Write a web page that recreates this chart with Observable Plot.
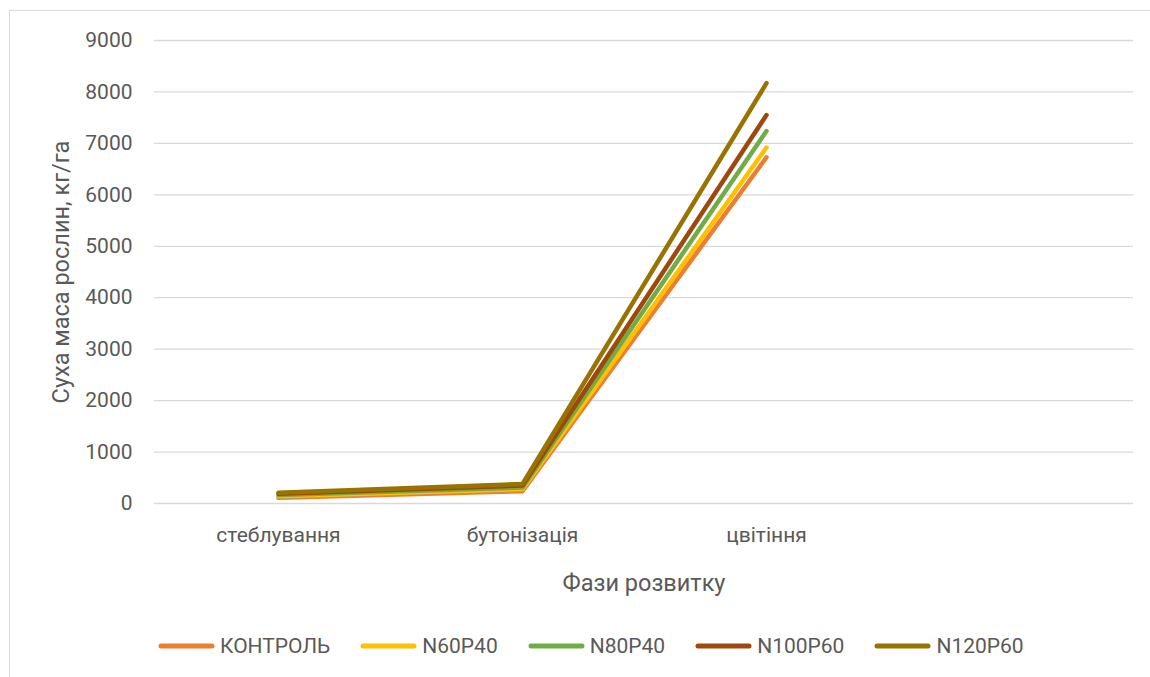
<!DOCTYPE html>
<html>
<head>
<meta charset="utf-8">
<script src="https://cdn.jsdelivr.net/npm/d3@7"></script>
<script src="https://cdn.jsdelivr.net/npm/@observablehq/plot@0.6"></script>
<style>
  html, body { margin: 0; padding: 0; background: #fff; }
  body { width: 1150px; height: 677px; overflow: hidden; position: relative; font-family: Roboto, "Noto Sans", sans-serif; }
  #frame { position: absolute; left: 9px; top: 10px; width: 1200px; height: 720px; border: 1px solid #d9d9d9; box-sizing: border-box; }
  #chart { position: absolute; left: 0; top: 0; }
  #legend { position: absolute; left: 158px; top: 634px; display: flex; gap: 30px; align-items: center; color: #595959; font-size: 21px; }
  #legend .item { display: flex; align-items: center; gap: 5px; }
</style>
</head>
<body>
<div id="frame"></div>
<div id="chart"></div>
<div id="legend"></div>
<script>
// Development phases (the fourth slot is an empty category on the axis)
const phases = ["стеблування", "бутонізація", "цвітіння", ""];
const series = ["КОНТРОЛЬ", "N60P40", "N80P40", "N100P60", "N120P60"];
const colors = ["#ED7D31", "#FFC000", "#70AD47", "#9E480E", "#997300"];

// Dry plant mass, kg/ha, per phase
const control = [110, 240, 6730];
const n60p40 = [140, 280, 6920];
const n80p40 = [165, 310, 7240];
const n100p60 = [190, 350, 7550];
const n120p60 = [210, 380, 8170];

const yTicks = [0, 1000, 2000, 3000, 4000, 5000, 6000, 7000, 8000, 9000];

const valuesBySeries = [control, n60p40, n80p40, n100p60, n120p60];
const rows = series.flatMap((s, i) =>
  valuesBySeries[i].map((v, j) => ({series: s, phase: phases[j], value: v}))
);

const chart = Plot.plot({
  width: 1150,
  height: 600,
  marginLeft: 154,
  marginRight: 17,
  marginTop: 40,
  marginBottom: 97,
  style: {fontFamily: "Roboto, 'Noto Sans', sans-serif", fontSize: "21px", color: "#595959", background: "transparent"},
  x: {type: "point", domain: phases, padding: 0.5},
  y: {domain: [0, 9000]},
  color: {domain: series, range: colors},
  marks: [
    Plot.gridY(yTicks, {stroke: "#d9d9d9", strokeOpacity: 1, strokeWidth: 1.3}),
    Plot.axisY(yTicks, {tickSize: 0, tickPadding: 22, fill: "#595959", fontSize: 21, tickFormat: d3.format("d"),
      label: "Суха маса рослин, кг/га", labelAnchor: "center", labelOffset: 102, labelArrow: "none"}),
    Plot.axisX({tickSize: 0, tickPadding: 24, fill: "#595959", fontSize: 21,
      label: "Фази розвитку", labelAnchor: "center", labelOffset: 87, labelArrow: "none"}),
    Plot.line(rows, {x: "phase", y: "value", z: "series", stroke: "series",
      strokeWidth: 4.5, strokeLinecap: "round", strokeLinejoin: "round"})
  ]
});
document.getElementById("chart").appendChild(chart);

// axis titles are set a little larger than the tick labels
chart.querySelectorAll("[aria-label='y-axis label'] text, [aria-label='x-axis label'] text").forEach(t => t.setAttribute("font-size", 23.5));

// legend below the plot
const legend = d3.select("#legend");
series.forEach((s, i) => {
  const item = legend.append("div").attr("class", "item");
  const sw = item.append("svg").attr("width", 57).attr("height", 10);
  sw.append("line").attr("x1", 3).attr("x2", 54).attr("y1", 5).attr("y2", 5)
    .attr("stroke", colors[i]).attr("stroke-width", 5).attr("stroke-linecap", "round");
  item.append("span").text(s);
});
</script>
</body>
</html>
